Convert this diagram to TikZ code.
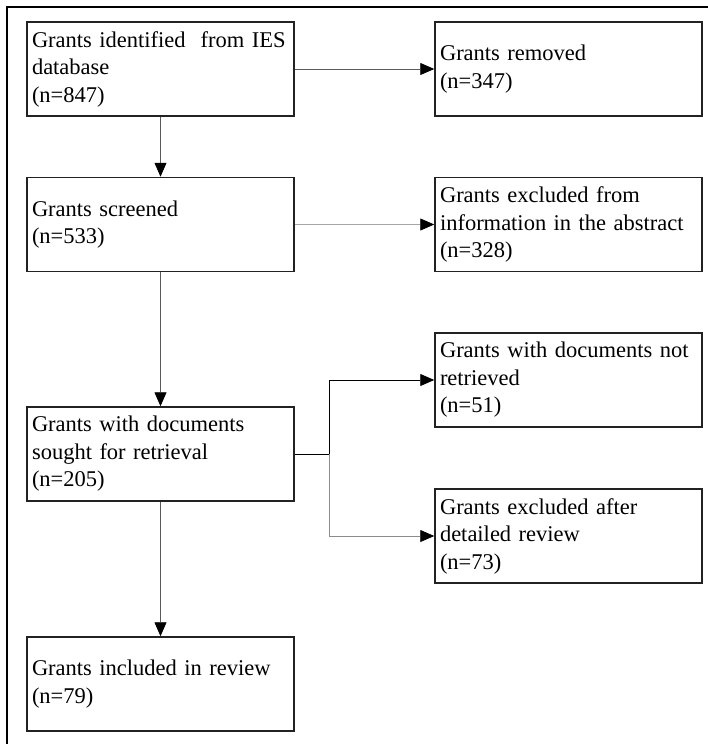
\documentclass[tikz,border=0pt]{standalone}
\usepackage{fontspec}
\setmainfont{Liberation Serif}
\usetikzlibrary{arrows.meta,positioning}
\definecolor{cline}{HTML}{5A5A5A}
\definecolor{cedge}{HTML}{222222}

\begin{document}
\begin{tikzpicture}[x=1pt, y=-1pt,
  box/.style={rectangle, draw=cedge, line width=1.5pt, minimum height=94pt,
    text width=257pt, inner xsep=5pt, align=left,
    font=\fontsize{22.5}{27.5}\selectfont},
  arr/.style={-{Triangle[length=14pt, width=12pt, black]}, line width=0.8pt, cline},
  frame/.style={line width=1.6pt, black}]

\useasboundingbox (0,0) rectangle (708,744);
\draw[frame] (710,7) -- (7,7) -- (7,746);

% main column
\node[box] (found)  at (160.5,69)  {Grants identified\ \ from IES\\database\\(n=847)};
\node[box] (screen) at (160.5,224.5) {Grants screened\\(n=533)};
\node[box] (sought) at (160.5,454) {Grants with documents\\sought for retrieval\\(n=205)};
\node[box] (incl)   at (160.5,684) {Grants included in review\\(n=79)};

% exclusions
\node[box] (removed) at (568.5,69)  {Grants removed\\(n=347)};
\node[box] (abstr)   at (568.5,224.5) {Grants excluded from\\information in the abstract\\(n=328)};
\node[box] (notret)  at (568.5,380) {Grants with documents not\\retrieved\\(n=51)};
\node[box] (detail)  at (568.5,536) {Grants excluded after\\detailed review\\(n=73)};

\coordinate (split) at (329,454);

\draw[arr] (found) -- (removed);
\draw[arr] (found) -- (screen);
\draw[arr, black!35] (screen) -- (abstr);
\draw[arr] (screen) -- (sought);
\draw[arr] (sought) -- (incl);
\draw[line width=0.8pt, black] (sought) -- (split);
\draw[arr, black] (split) |- (notret);
\draw[arr, black!45] (split) |- (detail);
\end{tikzpicture}
\end{document}
